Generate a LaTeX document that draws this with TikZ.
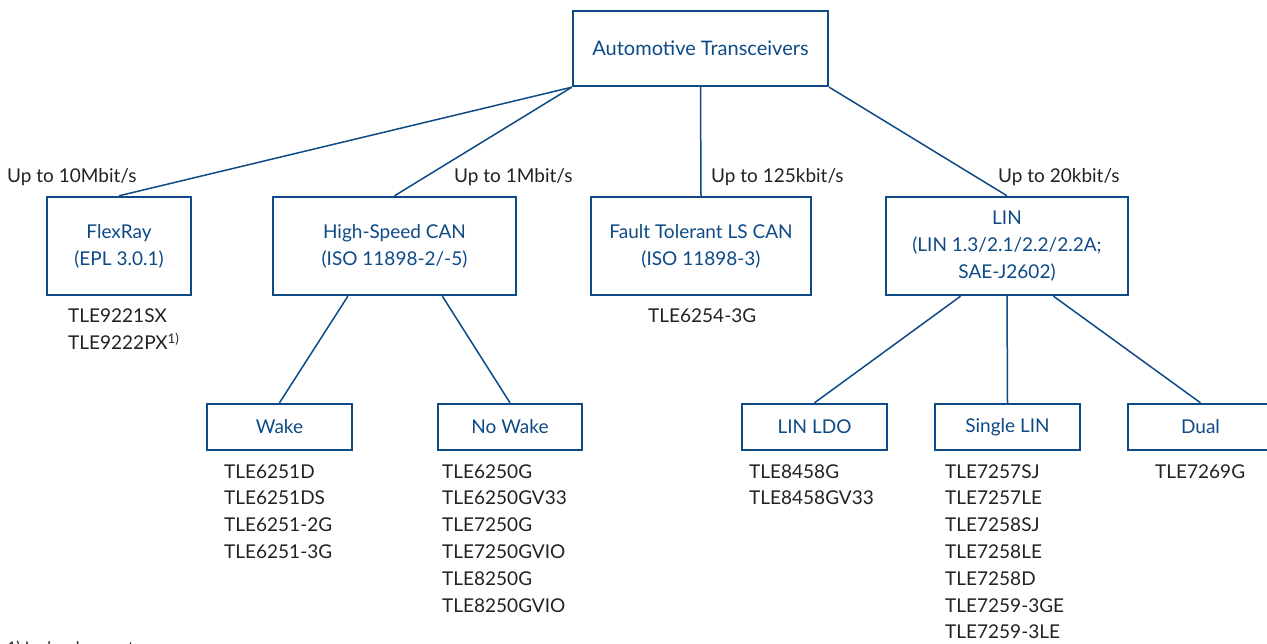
\documentclass[tikz,border=0pt]{standalone}
\usepackage{fontspec}
\setmainfont{Lato}
\usetikzlibrary{calc}
\definecolor{ifxblue}{HTML}{0E4A86}
\definecolor{ifxtext}{HTML}{222222}
\tikzset{
  box/.style={draw=ifxblue, line width=2.4pt, text=ifxblue, align=center, inner sep=0pt,
    font=\fontsize{19}{26.8}\selectfont},
  conn/.style={draw=ifxblue, line width=1.5pt},
  speed/.style={anchor=base west, text=ifxtext, inner sep=0pt, font=\fontsize{19}{27}\selectfont},
  plist/.style={anchor=base west, text=ifxtext, inner sep=0pt, align=left,
    font=\fontsize{19}{26.8}\selectfont},
}
% last baseline of a list = first baseline + (lines-1)*26.8
\begin{document}
\begin{tikzpicture}[x=1pt,y=-1pt]
\clip (0,0) rectangle (1267,643);
\fill[white] (0,0) rectangle (1267,643);
% level 1
\node[box, font=\fontsize{20}{26.8}\selectfont, minimum width=255pt, minimum height=75pt] (top) at (700.5,48.5) {Automotive Transceivers};
% level 2
\node[box, minimum width=144pt, minimum height=98pt] (flex) at (119,246) {FlexRay\\(EPL 3.0.1)};
\node[box, minimum width=243pt, minimum height=98pt] (hscan) at (394.5,246) {High-Speed CAN\\(ISO 11898-2/-5)};
\node[box, minimum width=220pt, minimum height=98pt] (ft) at (701,246) {Fault Tolerant LS CAN\\(ISO 11898-3)};
\node[box, minimum width=242pt, minimum height=98pt] (lin) at (1007,246) {LIN\\(LIN 1.3/2.1/2.2/2.2A;\\SAE-J2602)};
% level 3
\node[box, minimum width=145pt, minimum height=46pt] (wake) at (279.5,427) {Wake};
\node[box, minimum width=144pt, minimum height=46pt] (nowake) at (510,427) {No Wake};
\node[box, minimum width=145pt, minimum height=46pt] (ldo) at (814.5,427) {LIN LDO};
\node[box, minimum width=145pt, minimum height=46pt] (single) at (1007.5,427) {Single LIN};
\node[box, minimum width=145pt, minimum height=46pt] (dual) at (1200.5,427) {Dual};
% connectors
\draw[conn] (top.south west) -- (flex.north);
\draw[conn] (top.south west) -- (hscan.north);
\draw[conn] (top.south) -- (ft.north);
\draw[conn] (top.south east) -- (lin.north);
\draw[conn] ($(hscan.south west)!0.31!(hscan.south east)$) -- (wake.north);
\draw[conn] ($(hscan.south west)!0.695!(hscan.south east)$) -- (nowake.north);
\draw[conn] ($(lin.south west)!0.31!(lin.south east)$) -- (ldo.north);
\draw[conn] (lin.south) -- (single.north);
\draw[conn] ($(lin.south west)!0.69!(lin.south east)$) -- (dual.north);
% speed labels
\node[speed] (s1) at (7,182.5) {Up to 10Mbit/s};
\node[speed] (s2) at (454,182.5) {Up to 1Mbit/s};
\node[speed] (s3) at (711,182.5) {Up to 125kbit/s};
\node[speed] (s4) at (998,182.5) {Up to 20kbit/s};
% product lists (positioned by the baseline of their last line)
\node[plist] (lflex) at (68,349.3) {TLE9221SX\\TLE9222PX\textsuperscript{1)}};
\node[plist] (lft) at (648,322.5) {TLE6254-3G};
\node[plist] (lwake) at (224,558.4) {TLE6251D\\TLE6251DS\\TLE6251-2G\\TLE6251-3G};
\node[plist] (lnowake) at (442,612) {TLE6250G\\TLE6250GV33\\TLE7250G\\TLE7250GVIO\\TLE8250G\\TLE8250GVIO};
\node[plist] (lldo) at (749,504.8) {TLE8458G\\TLE8458GV33};
\node[plist] (lsingle) at (945,638.8) {TLE7257SJ\\TLE7257LE\\TLE7258SJ\\TLE7258LE\\TLE7258D\\TLE7259-3GE\\TLE7259-3LE};
\node[plist] (ldual) at (1155,478) {TLE7269G};
% footnote
\node[speed, font=\fontsize{16}{20}\selectfont] (fn) at (7,653) {1) In development};
\end{tikzpicture}
\end{document}
